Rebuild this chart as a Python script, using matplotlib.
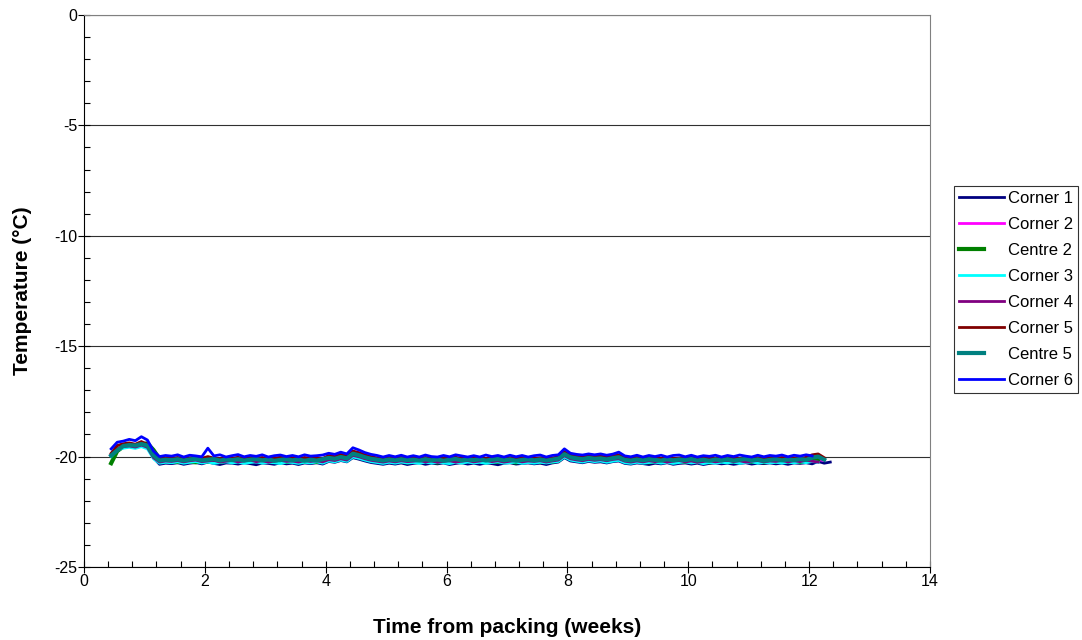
import matplotlib
matplotlib.use('Agg')
import matplotlib.pyplot as plt
import numpy as np
from matplotlib.ticker import MultipleLocator

plt.rcParams['font.family'] = ['Liberation Sans', 'DejaVu Sans']
plt.rcParams['axes.unicode_minus'] = False

# time from packing (weeks), one sample every 0.1 week
weeks = [
    0.45, 0.55, 0.65, 0.75, 0.85, 0.95, 1.05, 1.15, 1.25, 1.35,
    1.45, 1.55, 1.65, 1.75, 1.85, 1.95, 2.05, 2.15, 2.25, 2.35,
    2.45, 2.55, 2.65, 2.75, 2.85, 2.95, 3.05, 3.15, 3.25, 3.35,
    3.45, 3.55, 3.65, 3.75, 3.85, 3.95, 4.05, 4.15, 4.25, 4.35,
    4.45, 4.55, 4.65, 4.75, 4.85, 4.95, 5.05, 5.15, 5.25, 5.35,
    5.45, 5.55, 5.65, 5.75, 5.85, 5.95, 6.05, 6.15, 6.25, 6.35,
    6.45, 6.55, 6.65, 6.75, 6.85, 6.95, 7.05, 7.15, 7.25, 7.35,
    7.45, 7.55, 7.65, 7.75, 7.85, 7.95, 8.05, 8.15, 8.25, 8.35,
    8.45, 8.55, 8.65, 8.75, 8.85, 8.95, 9.05, 9.15, 9.25, 9.35,
    9.45, 9.55, 9.65, 9.75, 9.85, 9.95, 10.05, 10.15, 10.25, 10.35,
    10.45, 10.55, 10.65, 10.75, 10.85, 10.95, 11.05, 11.15, 11.25, 11.35,
    11.45, 11.55, 11.65, 11.75, 11.85, 11.95, 12.05, 12.15, 12.25, 12.35,
]

corner1 = [
    -19.95, -19.55, -19.45, -19.42, -19.48, -19.35, -19.50, -20.05, -20.35, -20.30,
    -20.32, -20.28, -20.35, -20.30, -20.27, -20.33, -20.25, -20.31, -20.36, -20.29,
    -20.30, -20.34, -20.28, -20.32, -20.37, -20.29, -20.31, -20.35, -20.28, -20.33,
    -20.30, -20.36, -20.29, -20.32, -20.28, -20.34, -20.22, -20.26, -20.18, -20.24,
    -20.05, -20.12, -20.20, -20.27, -20.31, -20.35, -20.30, -20.34, -20.29, -20.36,
    -20.31, -20.28, -20.35, -20.30, -20.33, -20.29, -20.36, -20.31, -20.28, -20.34,
    -20.30, -20.35, -20.29, -20.32, -20.37, -20.30, -20.28, -20.34, -20.31, -20.29,
    -20.33, -20.30, -20.36, -20.29, -20.25, -20.05, -20.20, -20.24, -20.28, -20.22,
    -20.26, -20.24, -20.29, -20.23, -20.20, -20.31, -20.34, -20.29, -20.32, -20.36,
    -20.30, -20.33, -20.28, -20.35, -20.31, -20.29, -20.34, -20.30, -20.36, -20.31,
    -20.29, -20.33, -20.30, -20.35, -20.31, -20.28, -20.34, -20.30, -20.32, -20.29,
    -20.33, -20.30, -20.35, -20.29, -20.31, -20.28, -20.33, -20.22, -20.30, -20.25,
]
corner2 = [
    -19.90, -19.60, -19.50, -19.48, -19.52, -19.42, -19.55, -20.00, -20.20, -20.15,
    -20.18, -20.12, -20.17, -20.14, -20.20, -20.13, -20.10, -20.16, -20.19, -20.12,
    -20.15, -20.19, -20.13, -20.17, -20.12, -20.18, -20.14, -20.20, -20.13, -20.16,
    -20.14, -20.18, -20.12, -20.16, -20.19, -20.13, -20.05, -20.10, -20.02, -20.08,
    -19.85, -19.92, -20.02, -20.10, -20.15, -20.19, -20.14, -20.18, -20.12, -20.17,
    -20.15, -20.19, -20.13, -20.18, -20.14, -20.20, -20.15, -20.12, -20.18, -20.14,
    -20.17, -20.13, -20.19, -20.15, -20.12, -20.18, -20.14, -20.20, -20.16, -20.13,
    -20.18, -20.14, -20.19, -20.15, -20.10, -19.88, -20.02, -20.07, -20.11, -20.06,
    -20.09, -20.07, -20.12, -20.06, -20.02, -20.14, -20.18, -20.13, -20.17, -20.21,
    -20.15, -20.18, -20.13, -20.19, -20.14, -20.17, -20.12, -20.18, -20.15, -20.20,
    -20.14, -20.17, -20.13, -20.19, -20.15, -20.12, -20.18, -20.14, -20.20, -20.16,
    -20.13, -20.18, -20.14, -20.17, -20.12, -20.16, -20.10, -20.14, -20.18, None,
]
centre2 = [
    -20.30, -19.75, -19.55, -19.50, -19.52, -19.45, -19.40, -19.70, -20.10, -20.22,
    -20.20, -20.25, -20.18, -20.22, -20.26, -20.19, -20.23, -20.20, -20.25, -20.18,
    -20.22, -20.19, -20.24, -20.21, -20.18, -20.25, -20.20, -20.23, -20.19, -20.24,
    -20.21, -20.18, -20.23, -20.20, -20.25, -20.19, -20.12, -20.16, -20.08, -20.14,
    -19.92, -19.98, -20.08, -20.15, -20.20, -20.24, -20.19, -20.23, -20.20, -20.26,
    -20.21, -20.24, -20.19, -20.23, -20.27, -20.20, -20.24, -20.21, -20.25, -20.19,
    -20.23, -20.20, -20.26, -20.21, -20.24, -20.19, -20.23, -20.27, -20.20, -20.24,
    -20.21, -20.25, -20.19, -20.23, -20.18, -19.95, -20.08, -20.13, -20.17, -20.12,
    -20.15, -20.13, -20.18, -20.12, -20.09, -20.20, -20.24, -20.19, -20.23, -20.26,
    -20.20, -20.24, -20.19, -20.25, -20.21, -20.23, -20.18, -20.24, -20.20, -20.26,
    -20.22, -20.19, -20.25, -20.21, -20.24, -20.18, -20.23, -20.20, -20.26, -20.21,
    -20.24, -20.19, -20.23, -20.20, -20.25, -20.18, -20.12, -20.16, None, None,
]
corner3 = [
    -20.00, -19.70, -19.62, -19.58, -19.63, -19.55, -19.65, -20.10, -20.30, -20.26,
    -20.28, -20.24, -20.30, -20.26, -20.23, -20.29, -20.25, -20.31, -20.27, -20.24,
    -20.29, -20.25, -20.31, -20.27, -20.24, -20.30, -20.26, -20.28, -20.32, -20.25,
    -20.27, -20.31, -20.26, -20.29, -20.24, -20.30, -20.20, -20.24, -20.16, -20.22,
    -20.02, -20.08, -20.16, -20.23, -20.27, -20.31, -20.26, -20.30, -20.25, -20.29,
    -20.27, -20.31, -20.25, -20.30, -20.26, -20.29, -20.32, -20.26, -20.30, -20.25,
    -20.29, -20.26, -20.31, -20.27, -20.24, -20.30, -20.28, -20.25, -20.31, -20.27,
    -20.30, -20.26, -20.29, -20.25, -20.22, -20.02, -20.16, -20.21, -20.25, -20.19,
    -20.23, -20.20, -20.26, -20.21, -20.17, -20.28, -20.31, -20.26, -20.30, -20.27,
    -20.25, -20.30, -20.26, -20.31, -20.27, -20.24, -20.29, -20.26, -20.32, -20.27,
    -20.30, -20.26, -20.29, -20.25, -20.31, -20.27, -20.24, -20.30, -20.26, -20.29,
    -20.26, -20.30, -20.25, -20.29, -20.24, -20.28, -20.22, -20.26, None, None,
]
corner4 = [
    -19.95, -19.65, -19.55, -19.52, -19.57, -19.48, -19.58, -20.05, -20.25, -20.20,
    -20.22, -20.18, -20.24, -20.19, -20.16, -20.23, -20.20, -20.17, -20.25, -20.21,
    -20.18, -20.24, -20.20, -20.16, -20.23, -20.19, -20.25, -20.21, -20.17, -20.22,
    -20.20, -20.25, -20.18, -20.22, -20.19, -20.24, -20.14, -20.18, -20.10, -20.16,
    -19.95, -20.01, -20.10, -20.17, -20.21, -20.25, -20.20, -20.24, -20.19, -20.23,
    -20.21, -20.18, -20.24, -20.20, -20.26, -20.22, -20.19, -20.25, -20.21, -20.18,
    -20.24, -20.20, -20.17, -20.23, -20.19, -20.25, -20.21, -20.18, -20.24, -20.20,
    -20.22, -20.19, -20.25, -20.20, -20.16, -19.96, -20.10, -20.15, -20.19, -20.13,
    -20.17, -20.14, -20.19, -20.13, -20.10, -20.21, -20.25, -20.20, -20.24, -20.19,
    -20.23, -20.19, -20.25, -20.21, -20.18, -20.24, -20.20, -20.26, -20.22, -20.19,
    -20.24, -20.20, -20.17, -20.23, -20.19, -20.25, -20.21, -20.18, -20.24, -20.20,
    -20.22, -20.18, -20.24, -20.19, -20.23, -20.17, -20.21, -20.25, None, None,
]
corner5 = [
    -19.85, -19.50, -19.42, -19.38, -19.44, -19.32, -19.45, -19.95, -20.12, -20.06,
    -20.09, -20.04, -20.10, -20.06, -20.02, -20.08, -20.00, -20.07, -20.11, -20.05,
    -20.08, -20.03, -20.10, -20.06, -20.09, -20.04, -20.11, -20.07, -20.03, -20.08,
    -20.06, -20.10, -20.04, -20.08, -20.05, -20.09, -19.95, -20.00, -19.90, -19.97,
    -19.75, -19.82, -19.92, -20.00, -20.06, -20.10, -20.05, -20.09, -20.04, -20.08,
    -20.06, -20.10, -20.04, -20.09, -20.05, -20.11, -20.07, -20.03, -20.09, -20.05,
    -20.08, -20.04, -20.10, -20.06, -20.02, -20.09, -20.05, -20.11, -20.07, -20.04,
    -20.09, -20.05, -20.10, -20.06, -20.01, -19.78, -19.93, -19.98, -20.02, -19.96,
    -20.00, -19.97, -20.03, -19.96, -19.92, -20.05, -20.09, -20.04, -20.08, -20.11,
    -20.06, -20.09, -20.04, -20.10, -20.06, -20.08, -20.03, -20.09, -20.05, -20.11,
    -20.07, -20.04, -20.10, -20.06, -20.09, -20.03, -20.08, -20.05, -20.11, -20.06,
    -20.09, -20.04, -20.08, -20.05, -20.10, -20.03, -19.92, -19.88, -20.05, None,
]
centre5 = [
    -19.95, -19.72, -19.52, -19.48, -19.50, -19.43, -19.50, -19.95, -20.18, -20.14,
    -20.16, -20.12, -20.18, -20.13, -20.10, -20.17, -20.14, -20.11, -20.18, -20.13,
    -20.16, -20.12, -20.18, -20.14, -20.11, -20.17, -20.13, -20.19, -20.15, -20.12,
    -20.17, -20.13, -20.19, -20.14, -20.18, -20.12, -20.06, -20.10, -20.02, -20.08,
    -19.87, -19.94, -20.03, -20.10, -20.14, -20.18, -20.13, -20.17, -20.12, -20.16,
    -20.14, -20.18, -20.12, -20.17, -20.13, -20.19, -20.14, -20.11, -20.17, -20.13,
    -20.16, -20.12, -20.18, -20.14, -20.11, -20.17, -20.13, -20.19, -20.15, -20.12,
    -20.17, -20.13, -20.18, -20.14, -20.09, -19.89, -20.03, -20.08, -20.12, -20.06,
    -20.10, -20.08, -20.13, -20.07, -20.03, -20.15, -20.18, -20.13, -20.17, -20.12,
    -20.15, -20.18, -20.12, -20.17, -20.13, -20.16, -20.11, -20.18, -20.14, -20.19,
    -20.13, -20.17, -20.12, -20.18, -20.14, -20.11, -20.17, -20.13, -20.19, -20.15,
    -20.12, -20.17, -20.13, -20.16, -20.11, -20.15, -20.05, -20.00, -20.14, None,
]
corner6 = [
    -19.65, -19.35, -19.30, -19.22, -19.28, -19.10, -19.25, -19.75, -20.00, -19.95,
    -19.98, -19.92, -20.02, -19.94, -19.97, -20.01, -19.62, -19.97, -19.92, -20.02,
    -19.96, -19.91, -20.01, -19.95, -19.99, -19.92, -20.02, -19.96, -19.93, -20.00,
    -19.95, -20.01, -19.92, -19.98, -19.96, -19.93, -19.85, -19.90, -19.80, -19.88,
    -19.60, -19.70, -19.82, -19.90, -19.95, -20.02, -19.95, -20.01, -19.94, -20.02,
    -19.96, -20.02, -19.93, -20.00, -20.02, -19.95, -20.01, -19.92, -19.97, -20.02,
    -19.96, -20.02, -19.93, -20.00, -19.95, -20.02, -19.94, -20.01, -19.95, -20.02,
    -19.96, -19.93, -20.02, -19.95, -19.92, -19.65, -19.85, -19.90, -19.93, -19.88,
    -19.92, -19.88, -19.94, -19.89, -19.80, -19.97, -20.01, -19.94, -20.02, -19.95,
    -20.00, -19.94, -20.02, -19.95, -19.93, -20.01, -19.94, -20.02, -19.96, -19.99,
    -19.94, -20.02, -19.95, -20.00, -19.93, -19.98, -20.02, -19.94, -20.01, -19.95,
    -19.98, -19.93, -20.01, -19.94, -19.98, -19.92, -19.97, None, None, None,
]

labels = ['Corner 1', 'Corner 2', 'Centre 2', 'Corner 3',
          'Corner 4', 'Corner 5', 'Centre 5', 'Corner 6']
series = [corner1, corner2, centre2, corner3, corner4, corner5, centre5, corner6]
colors = ['#000080', '#FF00FF', '#008000', '#00FFFF',
          '#800080', '#800000', '#008080', '#0000FF']

fig = plt.figure(figsize=(10.82, 6.4), dpi=100)
ax = fig.add_axes([0.0776, 0.1141, 0.7819, 0.8625])

for name, vals, col in zip(labels, series, colors):
    lw = 3.0 if name.startswith('Centre') else 2.0
    ax.plot(weeks, np.array(vals, dtype=float), color=col, lw=lw, label=name)

ax.set_xlim(0, 14)
ax.set_ylim(-25, 0)
ax.xaxis.set_major_locator(MultipleLocator(2))
ax.xaxis.set_minor_locator(MultipleLocator(0.4))
ax.yaxis.set_major_locator(MultipleLocator(5))
ax.yaxis.set_minor_locator(MultipleLocator(1))
ax.tick_params(which='major', direction='inout', length=8, width=0.8, labelsize=11.5, pad=1)
ax.tick_params(which='minor', direction='in', length=4, width=0.8)
ax.grid(axis='y', which='major', color='#303030', lw=0.8)
for side in ('top', 'right'):
    ax.spines[side].set_color('#808080')

ax.set_xlabel('Time from packing (weeks)', fontweight='bold', fontsize=15, labelpad=21)
ax.set_ylabel('Temperature (\u00b0C)', fontweight='bold', fontsize=15, labelpad=16)

leg = ax.legend(loc='center left', bbox_to_anchor=(0.8817, 0.5477), bbox_transform=fig.transFigure,
                fontsize=12, frameon=True, fancybox=False, edgecolor='black',
                handlelength=2.7, handletextpad=0.25, labelspacing=0.66,
                borderpad=0.3, borderaxespad=0)
leg.get_frame().set_linewidth(0.8)
for line, name in zip(leg.get_lines(), labels):
    if name.startswith('Centre'):
        xd = np.asarray(line.get_xdata(), dtype=float)
        x0, x1 = xd.min(), xd.max()
        line.set_xdata([x0, x0 + 0.55 * (x1 - x0)])
        line.set_ydata(np.asarray(line.get_ydata(), dtype=float)[:2])

fig.savefig('out.png', dpi=100)
